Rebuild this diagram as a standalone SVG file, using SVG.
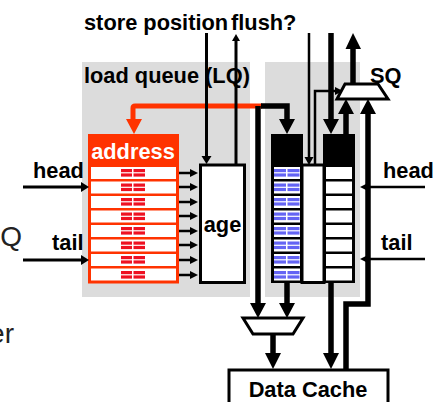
<svg xmlns="http://www.w3.org/2000/svg" width="440" height="402" viewBox="0 0 440 402">
<style>
text{font-family:"Liberation Sans",Arial,sans-serif;font-weight:700;font-size:21.8px;fill:#000}
text.plain{font-weight:400;font-size:28px;fill:#222}
.bg{fill:#dcdcdc}
.w{fill:#fff;stroke:#000;stroke-width:3}
.c{fill:none;stroke:#000}
.t2{stroke-width:2.5}
.t3{stroke-width:3}
.t5{stroke-width:5.5}
.red{fill:none;stroke:#ff3300;stroke-width:5}
.rd{fill:#ee1122}
.bl{fill:#6464f4}
</style>
<defs>
<g id="rdash"><rect class="rd" x="121" y="0" width="11" height="3.2"/><rect class="rd" x="133.500" y="0" width="11.500" height="3.2"/><rect class="rd" x="121" y="4.400" width="11" height="3.2"/><rect class="rd" x="133.500" y="4.400" width="11.500" height="3.2"/></g>
<g id="bdash"><rect class="bl" x="274" y="0" width="12" height="3.2"/><rect class="bl" x="287.500" y="0" width="12" height="3.2"/><rect class="bl" x="274" y="4.400" width="12" height="3.2"/><rect class="bl" x="287.500" y="4.400" width="12" height="3.2"/></g>
<g id="small"><path class="c t2" d="M179 0H192"/><path d="M190 -4L198 0L190 4Z"/></g>
</defs>
<g id="background"><rect class="bg" x="82" y="62" width="168" height="235"/><rect class="bg" x="265" y="62" width="95" height="235"/></g>
<g id="stray-labels"><text class="plain" x="22" y="246" text-anchor="end">LQ</text><text class="plain" x="14" y="343" text-anchor="end">er</text></g>
<g id="load-queue-label"><text x="84" y="83">load queue (LQ)</text></g>
<g id="address-queue">
<rect x="88" y="134" width="91" height="149.500" fill="#ff3300"/>
<rect x="91" y="167" width="85" height="12" fill="#fff"/><rect x="91" y="181.500" width="85" height="12" fill="#fff"/><rect x="91" y="196" width="85" height="12" fill="#fff"/><rect x="91" y="210.500" width="85" height="12" fill="#fff"/><rect x="91" y="225" width="85" height="12" fill="#fff"/><rect x="91" y="239.500" width="85" height="12" fill="#fff"/><rect x="91" y="254" width="85" height="12" fill="#fff"/><rect x="91" y="268.500" width="85" height="12" fill="#fff"/>
<use href="#rdash" y="169"/><use href="#rdash" y="183.500"/><use href="#rdash" y="198"/><use href="#rdash" y="212.500"/><use href="#rdash" y="227"/><use href="#rdash" y="241.500"/><use href="#rdash" y="256"/><use href="#rdash" y="271"/>
<text x="133" y="159" text-anchor="middle" style="fill:#fff">address</text>
</g>
<g id="age"><rect class="w" x="200.500" y="165" width="44" height="117.500"/><text x="222.500" y="232" text-anchor="middle">age</text></g>
<g id="store-data">
<rect x="271" y="134" width="32" height="32"/>
<rect x="271" y="165" width="32" height="118"/>
<rect x="274" y="167" width="26" height="12" fill="#fff"/><rect x="274" y="181.500" width="26" height="12" fill="#fff"/><rect x="274" y="196" width="26" height="12" fill="#fff"/><rect x="274" y="210.500" width="26" height="12" fill="#fff"/><rect x="274" y="225" width="26" height="12" fill="#fff"/><rect x="274" y="239.500" width="26" height="12" fill="#fff"/><rect x="274" y="254" width="26" height="12" fill="#fff"/><rect x="274" y="268.500" width="26" height="12" fill="#fff"/>
<use href="#bdash" y="169"/><use href="#bdash" y="183.500"/><use href="#bdash" y="198"/><use href="#bdash" y="212.500"/><use href="#bdash" y="227"/><use href="#bdash" y="241.500"/><use href="#bdash" y="256"/><use href="#bdash" y="271"/>
</g>
<g id="store-middle"><rect class="w" x="302" y="165" width="22" height="117.500"/></g>
<g id="store-address">
<rect x="323" y="134" width="32" height="32"/>
<rect x="323" y="165" width="32" height="118"/>
<rect x="326" y="167" width="26" height="12" fill="#fff"/><rect x="326" y="181.500" width="26" height="12" fill="#fff"/><rect x="326" y="196" width="26" height="12" fill="#fff"/><rect x="326" y="210.500" width="26" height="12" fill="#fff"/><rect x="326" y="225" width="26" height="12" fill="#fff"/><rect x="326" y="239.500" width="26" height="12" fill="#fff"/><rect x="326" y="254" width="26" height="12" fill="#fff"/><rect x="326" y="268.500" width="26" height="12" fill="#fff"/>
</g>
<g id="connectors">
<path class="red" d="M262 106H135Q133 106 133 108V122"/><path d="M126 119H142L134 134Z" fill="#ff3300"/>
<path class="c t5" d="M261 106H287V122"/><path d="M279 119H295L287 134Z"/>
<path class="c t5" d="M258 106V306"/><path d="M250 303H266L258 318Z"/>
<path class="c t5" d="M287 283V306"/><path d="M279 303H295L287 318Z"/>
<path class="c t5" d="M273 334V356"/><path d="M265 353H281L273 369Z"/>
<path class="c t5" d="M331 283V356"/><path d="M323 353H339L331 369Z"/>
<path class="c t5" d="M346 370V304H368V110"/><path d="M360 114L368 99L376 114Z"/>
<path class="c t5" d="M331 33V122"/><path d="M323 119H339L331 134Z"/>
<path class="c t5" d="M346 134V110"/><path d="M338 114L346 99L354 114Z"/>
<path class="c t5" d="M353 84V46"/><path d="M345.500 49L353 33L361 49Z"/>
<path class="c t3" d="M206.500 33V156"/><path d="M201.500 156L206.500 164L211.500 156Z"/>
<path class="c t3" d="M236 165V40"/><path d="M232 41L236 34L240 41Z"/>
<path class="c t2" d="M309 33V157"/><path d="M304.500 157L309 165L313.500 157Z"/>
<path class="c t2" d="M315 165V91H338"/><path d="M335 87L343 91L335 95Z"/>
<path class="c t3" d="M23 187H82"/><path d="M81 182L89 187L81 192Z"/>
<path class="c t3" d="M23 260H82"/><path d="M81 255L89 260L81 265Z"/>
<path class="c t2" d="M425 187H368"/><path d="M368 183L360 187L368 191Z"/>
<path class="c t2" d="M425 259H368"/><path d="M368 255L360 259L368 263Z"/>
<use href="#small" y="173"/><use href="#small" y="187"/><use href="#small" y="202"/><use href="#small" y="216"/><use href="#small" y="231"/><use href="#small" y="245"/><use href="#small" y="260"/><use href="#small" y="275"/>
</g>
<g id="mux-store"><path class="w" d="M345 84H378L388 99H337Z"/></g>
<g id="mux-load"><path class="w" d="M243 318H303L293 334H253Z"/></g>
<g id="data-cache"><rect class="w" x="229" y="370" width="159" height="40"/><text x="308" y="397" text-anchor="middle">Data Cache</text></g>
<g id="labels">
<text x="84" y="30">store position</text><text x="231" y="30">flush?</text>
<text x="370" y="83">SQ</text>
<text x="33" y="178">head</text><text x="52" y="250">tail</text>
<text x="383" y="178">head</text><text x="381" y="250">tail</text>
</g>
</svg>
